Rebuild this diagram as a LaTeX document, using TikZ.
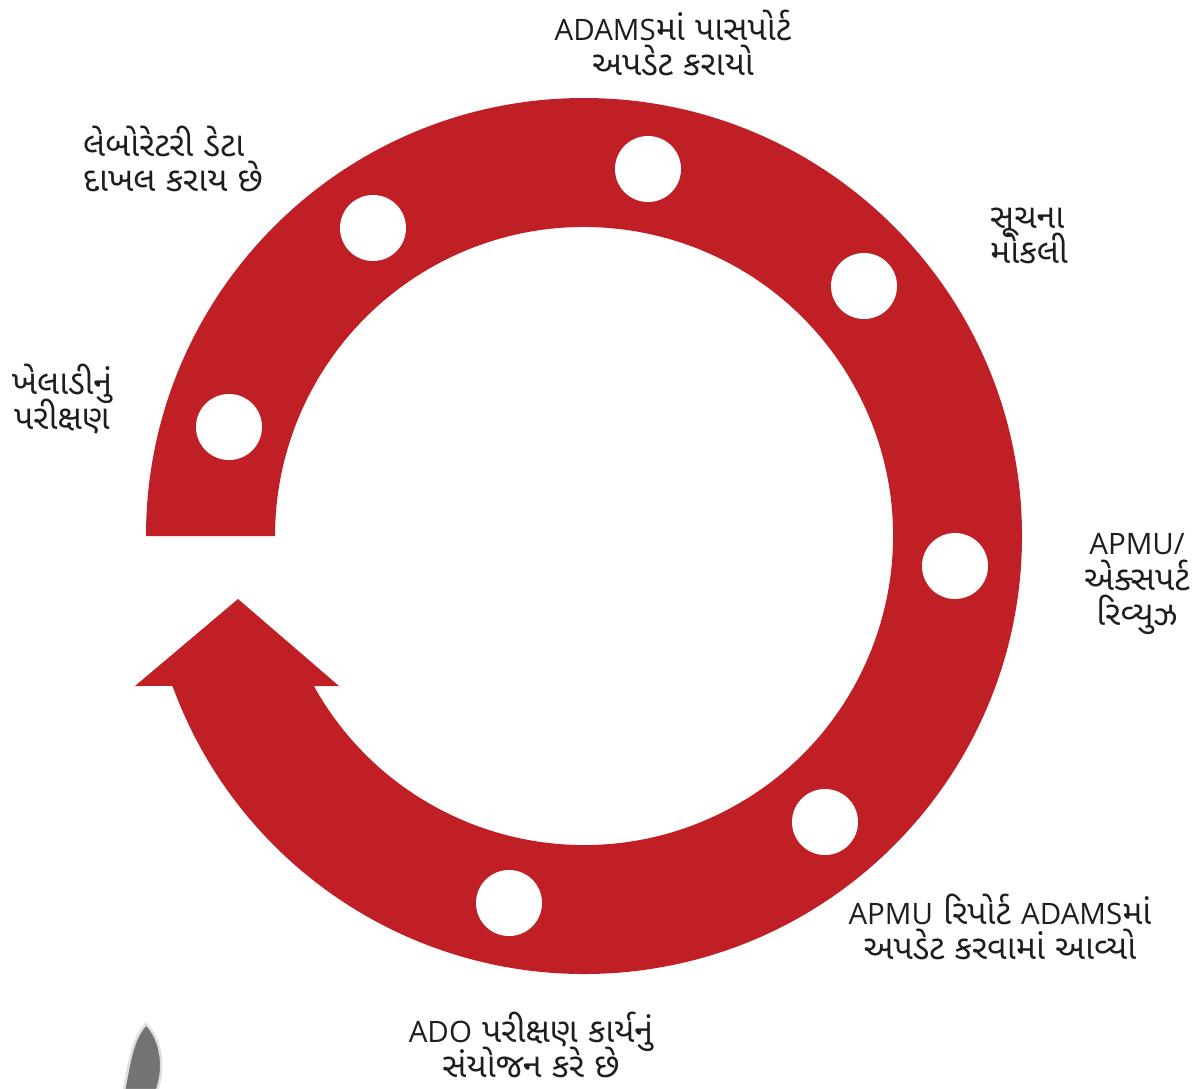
\documentclass[tikz,border=0pt]{standalone}
\usepackage{fontspec}
\setmainfont{Open Sans}
\newfontfamily\guj[Script=Gujarati]{Noto Sans Gujarati UI}
\newcommand{\lat}[1]{{\rmfamily\fontsize{29.5}{35}\selectfont #1}}
\newcommand{\gujsize}{\guj\fontsize{34}{35.5}\selectfont\lineskiplimit=-100pt\relax}
\definecolor{ringred}{RGB}{193,31,38}
\definecolor{txt}{RGB}{30,30,30}
\begin{document}
\begin{tikzpicture}[x=1pt,y=1pt,
  lbl/.style={align=center, font=\gujsize, inner sep=0pt, text=txt},
  dot/.style={circle, fill=white, minimum size=66pt, inner sep=0pt}]
\useasboundingbox (0,0) rectangle (1196,-1088);
% ring with arrow head
\fill[ringred] (146,-536) arc[start angle=180, end angle=-159.98, radius=438]
  -- (135,-686) -- (238,-599) -- (339,-686) -- (313.9,-686)
  arc[start angle=-150.96, end angle=180, radius=309] -- cycle;
% dots
\node[dot] (d1) at (229,-427) {};
\node[dot] (d2) at (373,-228) {};
\node[dot] (d3) at (648,-169) {};
\node[dot] (d4) at (864,-286) {};
\node[dot] (d5) at (955,-566) {};
\node[dot] (d6) at (825,-822) {};
\node[dot] (d7) at (509,-903) {};
% labels
\node[lbl] (t1) at (62,-399) {ખેલાડીનું\\પરીક્ષણ};
\node[lbl, align=left, anchor=west] (t2) at (83,-159) {લેબોરેટરી ડેટા\\દાખલ કરાય છે};
\node[lbl] (t3) at (673,-43) {\lat{ADAMS}માં પાસપોર્ટ\\અપડેટ કરાયો};
\node[lbl, align=left, anchor=west] (t4) at (990,-236) {સૂચના\\મોકલી};
\node[lbl] (t5) at (1137,-584) {\lat{APMU/}\\એક્સપર્ટ\\રિવ્યુઝ};
\node[lbl] (t6) at (1000,-927) {\lat{APMU} રિપોર્ટ \lat{ADAMS}માં\\અપડેટ કરવામાં આવ્યો};
\node[lbl] (t7) at (531,-1045) {\lat{ADO} પરીક્ષણ કાર્યનું\\સંયોજન કરે છે};
% grey fragment bottom-left
\fill[gray!90!black, draw=gray!25, line width=2.5pt]
  (146,-1024) .. controls (162,-1040) and (165,-1068) .. (157,-1090)
  -- (124,-1090) .. controls (130,-1060) and (132,-1040) .. cycle;
\end{tikzpicture}
\end{document}
